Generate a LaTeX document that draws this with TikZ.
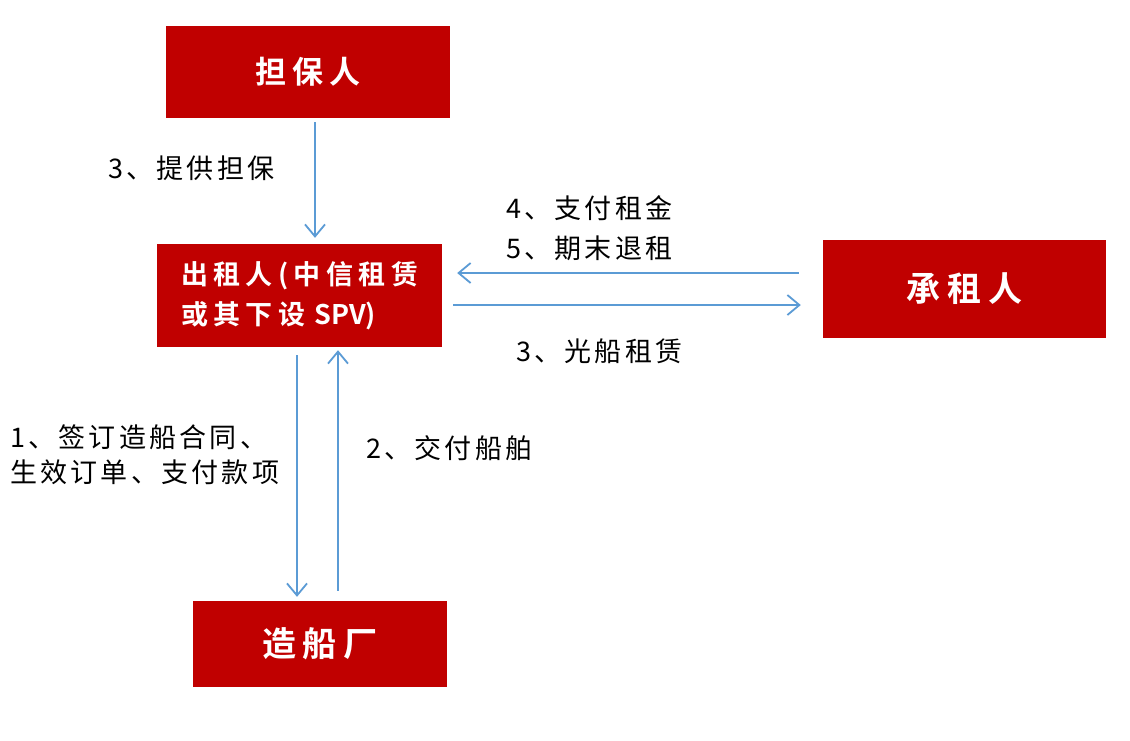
\documentclass[tikz,border=0pt]{standalone}
\usepackage{fontspec}
\setmainfont{Noto Sans CJK SC}
\newfontfamily\boxfont[LetterSpace=20]{Noto Sans CJK SC Bold}
\newfontfamily\boxlat{Noto Sans CJK SC Bold}
\newfontfamily\lblfont[LetterSpace=12]{Noto Sans CJK SC}
\usetikzlibrary{arrows.meta,calc}
\definecolor{boxred}{HTML}{C00000}
\definecolor{arrblue}{HTML}{5B9BD5}
\tikzset{
  redbox/.style={fill=boxred,draw=none,text=white,font=\boxfont\fontsize{31}{40}\selectfont,align=center,inner sep=0pt},
  bigbox/.style={redbox,font=\boxfont\fontsize{34}{40}\selectfont},
  arr/.style={draw=arrblue,line width=1.8pt,-{Straight Barb[length=12pt,width=20pt,line width=1.8pt]}},
  lbl/.style={font=\lblfont\fontsize{27}{40}\selectfont,text=black,align=left,inner sep=0pt,anchor=west}
}
\begin{document}
\begin{tikzpicture}[x=1pt,y=-1pt]
\useasboundingbox[fill=white] (0,0) rectangle (1130,740);
\node[redbox,minimum width=284pt,minimum height=92pt] (g) at (308,72) {担保人};
\node[redbox,minimum width=285pt,minimum height=103pt,align=left,text width=237pt,font=\boxfont\fontsize{27}{40}\selectfont] (l) at (299.5,295.5) {出租人(中信租赁\\或其下设 {\boxlat SPV)}};
\node[bigbox,minimum width=283pt,minimum height=98pt] (t) at (964.5,289) {承租人};
\node[bigbox,minimum width=254pt,minimum height=86pt] (s) at (320,644) {造船厂};

\draw[arr] ($(g.south)+(7,4)$) -- ($(l.north)+(15.5,-6)$);
\draw[arr] ($(t.west)+(-24,-16)$) -- ($(l.east)+(15,-22.5)$);
\draw[arr] ($(l.east)+(11,9.5)$) -- ($(t.west)+(-22,16)$);
\draw[arr] ($(l.south)+(-2.5,8)$) -- ($(s.north)+(-23,-4)$);
\draw[arr] ($(s.north)+(18,-10)$) -- ($(l.south)+(38.5,3)$);

\node[lbl] (lg) at (108,168) {3、提供担保};
\node[lbl] (lr) at (506,228) {4、支付租金\\5、期末退租};
\node[lbl] (lb) at (516,351) {3、光船租赁};
\node[lbl,font=\lblfont\fontsize{27}{35}\selectfont] (ld) at (10,455) {1、签订造船合同、\\生效订单、支付款项};
\node[lbl] (lu) at (366,448) {2、交付船舶};
\end{tikzpicture}
\end{document}
